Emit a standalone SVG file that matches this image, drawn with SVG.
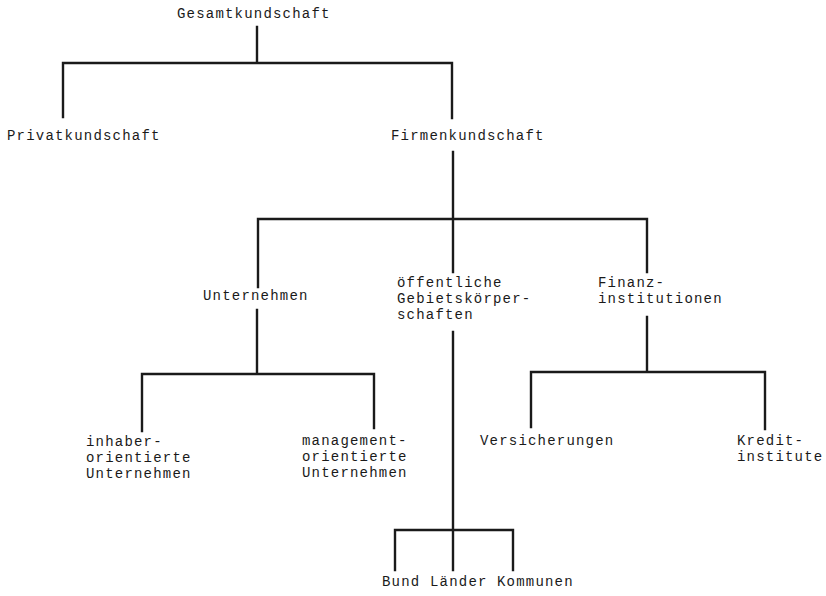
<svg xmlns="http://www.w3.org/2000/svg" width="826" height="596" viewBox="0 0 826 596">
<style>
text{font-family:"Liberation Mono","Courier New",monospace;font-size:14px;letter-spacing:1.2px;fill:#1a1a1a}
.c{fill:none;stroke:#1a1a1a;stroke-width:2.4;stroke-linecap:square;stroke-linejoin:miter}
</style>
<rect width="826" height="596" fill="#fff"/>
<g id="connectors">
<path class="c" d="M257,27V63M63,117V63H452V118"/>
<path class="c" d="M453,152V272M258,287V219H647V272"/>
<path class="c" d="M257,310V374M142,431V374H374V428"/>
<path class="c" d="M453,332V570M395,570V530H513V570"/>
<path class="c" d="M647,317V372M531,427V372H765V429"/>
</g>
<g id="gesamt"><text x="177" y="18">Gesamtkundschaft</text></g>
<g id="privat"><text x="7" y="140">Privatkundschaft</text></g>
<g id="firmen"><text x="391" y="140">Firmenkundschaft</text></g>
<g id="unternehmen"><text x="203" y="300">Unternehmen</text></g>
<g id="oeffentlich"><text x="397" y="287">öffentliche<tspan x="397" y="303">Gebietskörper-</tspan><tspan x="397" y="319">schaften</tspan></text></g>
<g id="finanz"><text x="598" y="287">Finanz-<tspan x="598" y="303">institutionen</tspan></text></g>
<g id="inhaber"><text x="86" y="446">inhaber-<tspan x="86" y="462">orientierte</tspan><tspan x="86" y="478">Unternehmen</tspan></text></g>
<g id="management"><text x="302" y="445">management-<tspan x="302" y="461">orientierte</tspan><tspan x="302" y="477">Unternehmen</tspan></text></g>
<g id="versicherungen"><text x="480" y="445">Versicherungen</text></g>
<g id="kredit"><text x="737" y="445">Kredit-<tspan x="737" y="461">institute</tspan></text></g>
<g id="bund"><text x="382" y="586">Bund</text></g>
<g id="laender"><text x="430" y="586">Länder</text></g>
<g id="kommunen"><text x="497" y="586">Kommunen</text></g>
</svg>
